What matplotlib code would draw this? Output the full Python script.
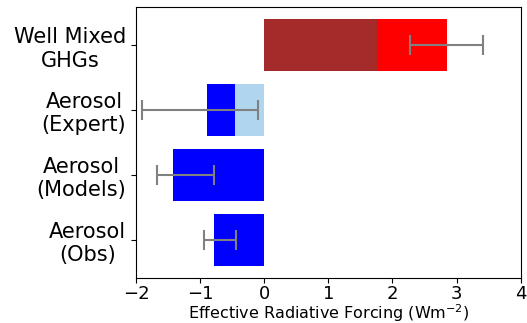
import numpy as np
import matplotlib.pyplot as plt

# Effective radiative forcing estimates (W m-2)
labels = ['Aerosol\n(Obs)', 'Aerosol\n(Models)', 'Aerosol\n(Expert)', 'Well Mixed\nGHGs']
total = [-0.78, -1.42, -0.89, 2.85]
inner = [0.0, 0.0, -0.45, 1.76]          # lighter/darker component drawn on top
err_centre = [-0.69, -1.23, -1.0, 2.85]
err_half = [0.25, 0.44, 0.9, 0.57]
bar_cols = ['blue', 'blue', 'blue', 'red']
inner_cols = ['blue', 'blue', '#b0d6ef', 'brown']

fig = plt.figure(figsize=(5.27, 3.23), dpi=100)
ax = fig.add_axes([0.258, 0.139, 0.730, 0.839])

y = np.arange(len(labels))
ax.barh(y, total, height=0.8, color=bar_cols)
ax.barh(y, inner, height=0.8, color=inner_cols)
ax.errorbar(err_centre, y, xerr=err_half, fmt='none', ecolor='grey',
            elinewidth=1.5, capsize=7, capthick=1.5)

ax.set_xlim(-2, 4)
ax.set_yticks(y)
ax.set_yticklabels(labels, fontsize=15, multialignment='center')
ax.tick_params(axis='x', labelsize=13, pad=1.5)
ax.set_xlabel('Effective Radiative Forcing (Wm$^{-2}$)', fontsize=11.5, labelpad=-0.5)

fig.savefig('out.png', dpi=100)
